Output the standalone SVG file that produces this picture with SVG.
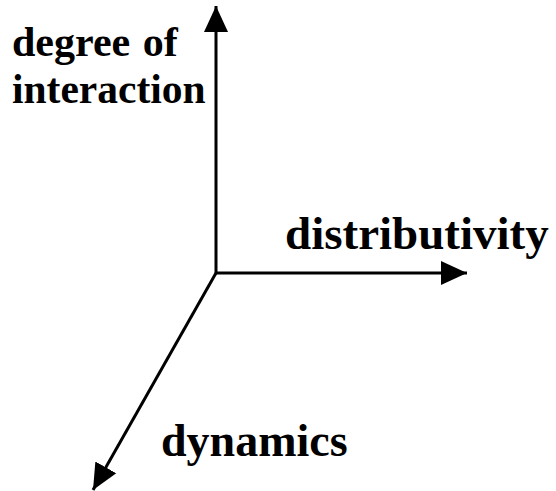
<svg xmlns="http://www.w3.org/2000/svg" width="556" height="491" viewBox="0 0 556 491">
<style>
.lbl{font-family:"Liberation Serif","Times New Roman",serif;font-weight:bold;fill:#000}
.ax{stroke:#000;stroke-width:3;fill:none}
</style>
<defs>
<marker id="ah" markerUnits="userSpaceOnUse" markerWidth="26" markerHeight="26" viewBox="0 0 26 24" refX="26" refY="12" orient="auto">
<path d="M0,0 L26,12 L0,24 Z" fill="#000"/>
</marker>
</defs>
<rect width="556" height="491" fill="#fff"/>
<g id="connectors">
<line class="ax" x1="216" y1="273" x2="216" y2="6" marker-end="url(#ah)"/>
<line class="ax" x1="216" y1="273" x2="467" y2="273" marker-end="url(#ah)"/>
<line class="ax" x1="216" y1="273" x2="93" y2="490" marker-end="url(#ah)"/>
</g>
<g id="degree"><text class="lbl" x="12" y="56" font-size="42" word-spacing="2">degree of</text><text class="lbl" x="12" y="103" font-size="41.5">interaction</text></g>
<g id="distributivity"><text class="lbl" x="285" y="249" font-size="47">distributivity</text></g>
<g id="dynamics"><text class="lbl" x="161" y="456" font-size="46">dynamics</text></g>
</svg>
